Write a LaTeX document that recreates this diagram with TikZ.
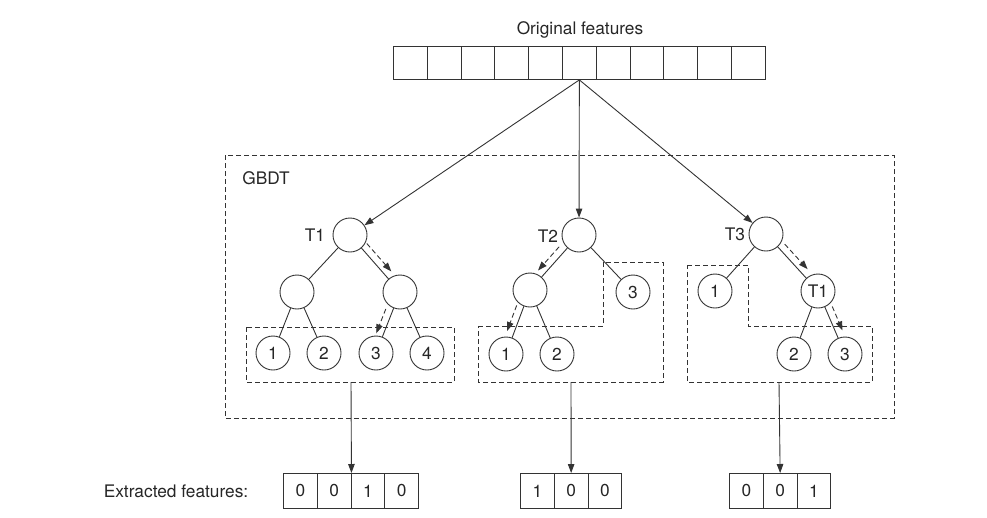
\documentclass[tikz,border=0pt]{standalone}
\usepackage{fontspec}
\setmainfont{TeX Gyre Heros}
\usetikzlibrary{arrows.meta,calc}
\begin{document}
\begin{tikzpicture}[x=1pt,y=-1pt,
  every node/.style={text=black!85, font=\fontsize{17.3}{20}\selectfont},
  ln/.style={draw=black!80, line width=0.9pt},
  cell/.style={ln, minimum width=33.8pt, minimum height=33pt, inner sep=0pt, anchor=north west},
  ecell/.style={ln, minimum width=33.8pt, minimum height=35pt, inner sep=0pt, anchor=north west},
  tn/.style={ln, circle, minimum size=34pt, inner sep=0pt},
  arr/.style={ln, -{Triangle[length=9pt,width=6.5pt]}},
  dpat/.style={dash pattern=on 5pt off 3pt},
  dbox/.style={ln, dpat},
  darr/.style={ln, dpat, -{Triangle[length=9pt,width=6.5pt]}}
]
\useasboundingbox (0,0) rectangle (987,517);

% original features
\node at (580,30) {Original features};
\foreach \i in {1,...,11} \node[cell] (o\i) at ({393+(\i-1)*33.8},46) {};

% GBDT box
\draw[dbox] (225,155) rectangle (894,418);
\node at (266,178) {GBDT};

% Tree 1
\node[tn] (r1) at (350,235) {};
\node[tn] (a1) at (297,292) {};
\node[tn] (b1) at (400,292) {};
\node[tn] (l11) at (273,353) {1};
\node[tn] (l12) at (324,353) {2};
\node[tn] (l13) at (376,353) {3};
\node[tn] (l14) at (427,353) {4};
\node at (315,235) {T1};
\draw[ln] (r1) -- (a1) (r1) -- (b1) (a1) -- (l11) (a1) -- (l12) (b1) -- (l13) (b1) -- (l14);
\draw[darr] ($(r1)!0.23!(b1)+(5.3,-4.6)$) -- ($(r1)!0.72!(b1)+(5.3,-4.6)$);
\draw[darr] ($(b1)!0.32!(l13)+(-6.5,-2.6)$) -- ($(b1)!0.72!(l13)+(-6.5,-2.6)$);
\draw[dbox] (246,327) rectangle (454,382);
\coordinate (d1) at (351,382);

% Tree 2
\node[tn] (r2) at (579,235) {};
\node[tn] (a2) at (530,290) {};
\node[tn] (l23) at (633,292) {3};
\node[tn] (l21) at (506,354) {1};
\node[tn] (l22) at (557,354) {2};
\node at (548,236) {T2};
\draw[ln] (r2) -- (a2) (r2) -- (l23) (a2) -- (l21) (a2) -- (l22);
\draw[darr] ($(r2)!0.3!(a2)+(-5.2,-4.7)$) -- ($(r2)!0.73!(a2)+(-5.2,-4.7)$);
\draw[darr] ($(a2)!0.28!(l21)+(-6.6,-2.5)$) -- ($(a2)!0.68!(l21)+(-6.6,-2.5)$);
\draw[dbox] (478,326) -- (603,326) -- (603,262) -- (663,262) -- (663,382) -- (478,382) -- cycle;
\coordinate (d2) at (571,382);

% Tree 3
\node[tn] (r3) at (766,234) {};
\node[tn] (l31) at (715,291) {1};
\node[tn] (b3) at (818,291) {T1};
\node[tn] (l32) at (794,354) {2};
\node[tn] (l33) at (845,354) {3};
\node at (735,234) {T3};
\draw[ln] (r3) -- (l31) (r3) -- (b3) (b3) -- (l32) (b3) -- (l33);
\draw[darr] ($(r3)!0.26!(b3)+(5.2,-4.7)$) -- ($(r3)!0.7!(b3)+(5.2,-4.7)$);
\draw[darr] ($(b3)!0.29!(l33)+(6.4,-2.8)$) -- ($(b3)!0.67!(l33)+(6.4,-2.8)$);
\draw[dbox] (687,265) -- (748,265) -- (748,326) -- (872,326) -- (872,382) -- (687,382) -- cycle;
\coordinate (d3) at (779,382);

% arrows from original features
\draw[arr] (o6.south) -- (r1);
\draw[arr] (o6.south) -- (r2);
\draw[arr] (o6.south) -- (r3);

% extracted features
\node at (176,491) {Extracted features:};
\foreach \v [count=\k] in {0,0,1,0} \node[ecell] (e1\k) at ({283+(\k-1)*33.75},473) {\v};
\foreach \v [count=\k] in {1,0,0} \node[ecell] (e2\k) at ({520+(\k-1)*33.8},473) {\v};
\foreach \v [count=\k] in {0,0,1} \node[ecell] (e3\k) at ({729+(\k-1)*33.8},473) {\v};

\draw[arr] (d1) -- (e12.north east);
\draw[arr] (d2) -- (e22.north);
\draw[arr] (d3) -- (e32.north);
\end{tikzpicture}
\end{document}
